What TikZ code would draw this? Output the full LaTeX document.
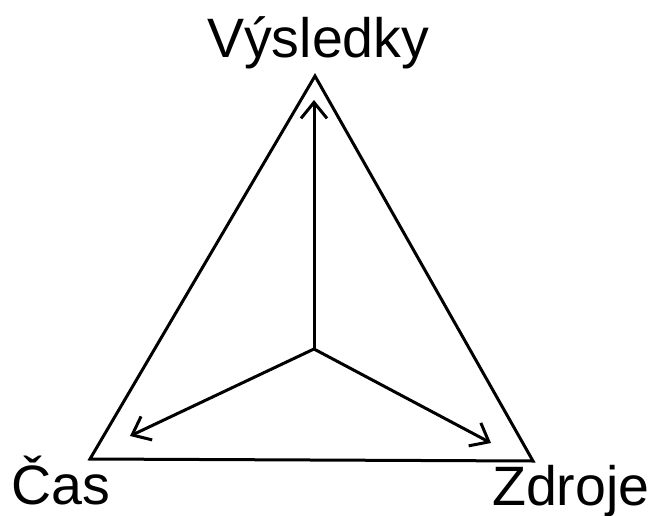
\documentclass[tikz,border=0pt]{standalone}
\usepackage{fontspec}
\setmainfont{Liberation Sans}
\usetikzlibrary{arrows.meta}
\begin{document}
\begin{tikzpicture}[x=1pt,y=-1pt,
  edge/.style={line width=3pt, line join=miter},
  axis/.style={line width=3pt, -{Straight Barb[length=16pt,width=26pt,line width=3pt]}},
  lbl/.style={font=\fontsize{55.5}{60}\selectfont, inner sep=0pt, anchor=base west}]
\useasboundingbox (0,0) rectangle (657,515);
\coordinate (T) at (315,76);
\coordinate (L) at (90,459);
\coordinate (R) at (533,461);
\coordinate (C) at (314,349);
\coordinate (aT) at (314,100);
\coordinate (aL) at (130,436);
\coordinate (aR) at (491,443);
\draw[edge] (T) -- (L) -- (R) -- cycle;
\draw[axis] (C) -- (aT);
\draw[axis] (C) -- (aL);
\draw[axis] (C) -- (aR);
\node[lbl] (v) at (207,57) {Výsledky};
\node[lbl] (c) at (11,504) {Čas};
\node[lbl] (z) at (492,505) {Zdroje};
\end{tikzpicture}
\end{document}
